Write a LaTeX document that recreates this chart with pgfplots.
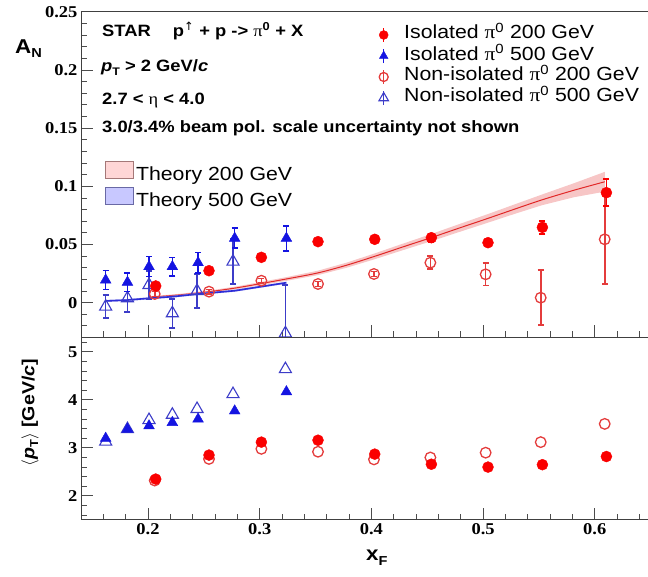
\documentclass[border=0pt]{standalone}
\usepackage{pgfplots}
\pgfplotsset{compat=1.18}
\usepackage{fontspec}
\setmainfont{Liberation Sans}[FakeStretch=1.12]
\newfontfamily\serifb{Liberation Serif}[FakeStretch=1.12]
\newfontfamily\dejavu{DejaVu Sans}

\definecolor{myred}{RGB}{250,0,0}
\definecolor{myredo}{RGB}{228,60,60}
\definecolor{myblue}{RGB}{20,20,225}
\definecolor{mybluo}{RGB}{60,60,200}
\definecolor{bandred}{RGB}{246,188,188}
\definecolor{linered}{RGB}{225,40,40}
\definecolor{bandblue}{RGB}{170,170,240}
\definecolor{lineblue}{RGB}{45,45,215}
\definecolor{legred}{RGB}{255,214,214}
\definecolor{legredd}{RGB}{165,120,120}
\definecolor{legblue}{RGB}{200,200,255}
\definecolor{legblued}{RGB}{105,105,165}

\pgfplotsset{
  root/.style={
    scale only axis, width=580.8pt, xmin=0.14, xmax=0.66,
    axis line style={line width=0.9pt, black!75},
    tick align=inside, xtick pos=lower, ytick pos=left,
    major tick length=12pt, minor tick length=6pt,
    tick style={line width=0.8pt, black!70},
    xtick={0.2,0.3,0.4,0.5,0.6},
    minor xtick={0.16,0.18,0.22,0.24,0.26,0.28,0.32,0.34,0.36,0.38,0.42,0.44,0.46,0.48,0.52,0.54,0.56,0.58,0.62,0.64},
    tick label style={font=\serifb\bfseries\fontsize{16.5}{18}\selectfont},
    /pgf/number format/assume math mode=true,
    scaled ticks=false,
    clip marker paths=true,
  },
  errs/.style={/pgfplots/error bars/y dir=both, /pgfplots/error bars/y explicit,
    /pgfplots/error bars/error bar style={line width=1.6pt},
    /pgfplots/error bars/error mark options={rotate=90, mark size=3pt, line width=1.6pt}},
  fred/.style={only marks, mark=*, mark size=5.5pt, color=myred},
  fblue/.style={only marks, mark=triangle*, mark size=6.2pt, color=myblue},
  ored/.style={only marks, mark=o, mark size=5.3pt, color=myredo, mark options={line width=1.3pt, fill=white}},
  oblue/.style={only marks, mark=triangle, mark size=7pt, color=mybluo, mark options={line width=1.1pt, fill=white}},
}

\begin{document}
\begin{tikzpicture}[x=1pt,y=1pt]
\useasboundingbox (0,0) rectangle (648,577);

% ---------------- top panel ----------------
\begin{axis}[root, at={(81pt,239.5pt)}, anchor=south west, height=325.7pt,
  ymin=-0.03, ymax=0.25,
  ytick={0,0.05,0.1,0.15,0.2,0.25}, yticklabels={0,0.05,0.1,0.15,0.2,0.25},
  minor ytick={-0.02,-0.01,0.01,0.02,0.03,0.04,0.06,0.07,0.08,0.09,0.11,0.12,0.13,0.14,0.16,0.17,0.18,0.19,0.21,0.22,0.23,0.24},
  xticklabels={},
  legend style={at={(0.4692,0.9616)}, anchor=north west, draw=none, fill=none,
    inner sep=0pt, row sep=0pt, font=\fontsize{19}{21}\selectfont,
    nodes={inner xsep=2.5pt, inner ysep=0pt, text height=14.5pt, text depth=6.5pt}},
  legend cell align=left,
  legend image code/.code={\path[draw=none] (-12pt,0pt) -- (36pt,0pt);
    \draw[#1, line width=1.3pt] (18pt,-7pt) -- (18pt,7pt);
    \draw[mark repeat=2,mark phase=2,#1] plot coordinates {(12pt,0pt)(18pt,0pt)(24pt,0pt)};},
]
% theory 200 GeV band + line
\addplot[fill=bandred, draw=none, fill opacity=0.85, forget plot] coordinates {
(0.200,0.0053)(0.228,0.0075)(0.255,0.0104)(0.280,0.0140)(0.302,0.0179)(0.325,0.0221)(0.352,0.0274)(0.378,0.0344)(0.403,0.0423)(0.428,0.0506)(0.454,0.0591)(0.479,0.0676)(0.504,0.0760)(0.529,0.0847)(0.553,0.0930)(0.581,0.1025)(0.609,0.1124)
(0.609,0.0954)(0.581,0.0905)(0.553,0.0838)(0.529,0.0765)(0.504,0.0686)(0.479,0.0608)(0.454,0.0529)(0.428,0.0450)(0.403,0.0373)(0.378,0.0300)(0.352,0.0236)(0.325,0.0189)(0.302,0.0151)(0.280,0.0116)(0.255,0.0084)(0.228,0.0057)(0.200,0.0037)};
\addplot[linered, line width=1pt, smooth, forget plot] coordinates {
(0.200,0.0045)(0.228,0.0066)(0.255,0.0094)(0.280,0.0128)(0.302,0.0165)(0.325,0.0205)(0.352,0.0255)(0.378,0.0322)(0.403,0.0398)(0.428,0.0478)(0.454,0.0560)(0.479,0.0642)(0.504,0.0723)(0.529,0.0806)(0.553,0.0884)(0.581,0.0965)(0.609,0.1039)};
% theory 500 GeV band + line
\addplot[fill=bandblue, draw=none, fill opacity=0.85, forget plot] coordinates {
(0.1621,0.0023)(0.1816,0.0031)(0.2009,0.0046)(0.2218,0.0060)(0.2448,0.0083)(0.2776,0.0111)(0.3239,0.0180)
(0.3239,0.0162)(0.2776,0.0093)(0.2448,0.0065)(0.2218,0.0042)(0.2009,0.0028)(0.1816,0.0013)(0.1621,0.0005)};
\addplot[lineblue, line width=1.6pt, forget plot] coordinates {
(0.1621,0.0014)(0.1816,0.0022)(0.2009,0.0037)(0.2218,0.0051)(0.2448,0.0074)(0.2776,0.0102)(0.3239,0.0171)};

% Non-isolated 500 GeV
\addplot[oblue, forget plot, errs] coordinates {
(0.1621,-0.0035) +- (0,0.0100)
(0.1816,0.0037) +- (0,0.0118)
(0.2009,0.0151) +- (0,0.0120)
(0.2218,-0.0092) +- (0,0.0125)
(0.2439,0.0100) +- (0,0.0146)
(0.2761,0.0352) +- (0,0.0193)
(0.3230,-0.0264) +- (0,0.0415)};
% Non-isolated 200 GeV
\addplot[ored, forget plot, errs] coordinates {
(0.2060,0.0074) +- (0,0.0020)
(0.2546,0.0094) +- (0,0.0020)
(0.3015,0.0188) +- (0,0.0020)
(0.3522,0.0160) +- (0,0.0020)
(0.4023,0.0246) +- (0,0.0020)
(0.4528,0.0343) +- (0,0.0056)
(0.5023,0.0243) +- (0,0.0096)
(0.5516,0.0042) +- (0,0.0236)
(0.6089,0.0544) +- (0,0.0384)};
% Isolated 500 GeV
\addplot[fblue, forget plot, errs] coordinates {
(0.1621,0.0194) +- (0,0.0083)
(0.1816,0.0175) +- (0,0.0079)
(0.2009,0.0309) +- (0,0.0086)
(0.2218,0.0309) +- (0,0.0079)
(0.2448,0.0343) +- (0,0.0086)
(0.2776,0.0553) +- (0,0.0086)
(0.3239,0.0553) +- (0,0.0107)};
% Isolated 200 GeV
\addplot[fred, forget plot, errs] coordinates {
(0.2069,0.0143) +- (0,0.0020)
(0.2546,0.0274) +- (0,0.0020)
(0.3015,0.0389) +- (0,0.0020)
(0.3522,0.0524) +- (0,0.0020)
(0.4030,0.0544) +- (0,0.0020)
(0.4537,0.0558) +- (0,0.0036)
(0.5044,0.0515) +- (0,0.0030)
(0.5531,0.0647) +- (0,0.0057)
(0.6104,0.0945) +- (0,0.0115)};

\addlegendimage{fred, mark size=4.5pt}
\addlegendentry{Isolated {\serifb π}\textsuperscript{0} 200 GeV}
\addlegendimage{fblue, mark size=5pt}
\addlegendentry{Isolated {\serifb π}\textsuperscript{0} 500 GeV}
\addlegendimage{ored, mark size=4.5pt}
\addlegendentry{Non-isolated {\serifb π}\textsuperscript{0} 200 GeV}
\addlegendimage{oblue, mark size=5.5pt}
\addlegendentry{Non-isolated {\serifb π}\textsuperscript{0} 500 GeV}
\end{axis}

% theory legend (overlay)
\begin{axis}[at={(81pt,239.5pt)}, anchor=south west, scale only axis,
  width=580.8pt, height=325.7pt, hide axis,
  xmin=0.14, xmax=0.66, ymin=-0.03, ymax=0.25,
  legend style={at={(0.0405,0.5410)}, anchor=north west, draw=none, fill=none,
    inner sep=0pt, row sep=0pt, font=\fontsize{19}{21}\selectfont,
    nodes={inner xsep=2.5pt, inner ysep=0pt, text height=14.5pt, text depth=6.5pt}},
  legend cell align=left,
  legend image code/.code={\draw[#1] (0pt,-2pt) rectangle (28pt,15pt);},
]
\addlegendimage{fill=legred, draw=legredd, line width=0.8pt}
\addlegendentry{Theory 200 GeV}
\addlegendimage{fill=legblue, draw=legblued, line width=0.8pt}
\addlegendentry{Theory 500 GeV}
\end{axis}

% ---------------- bottom panel ----------------
\begin{axis}[root, at={(81pt,57.1pt)}, anchor=south west, height=182.4pt,
  ymin=1.5, ymax=5.3, ytick={2,3,4,5},
  minor ytick={1.6,1.8,2.2,2.4,2.6,2.8,3.2,3.4,3.6,3.8,4.2,4.4,4.6,4.8,5.2},
  xticklabels={0.2,0.3,0.4,0.5,0.6},
]
\addplot[oblue] coordinates {(0.1621,3.13)(0.1816,3.39)(0.2009,3.58)(0.2218,3.69)(0.2439,3.81)(0.2761,4.12)(0.3230,4.64)};
\addplot[ored] coordinates {(0.2060,2.32)(0.2546,2.77)(0.3015,2.98)(0.3522,2.92)(0.4023,2.76)(0.4528,2.80)(0.5023,2.90)(0.5516,3.12)(0.6089,3.50)};
\addplot[fblue] coordinates {(0.1621,3.20)(0.1816,3.39)(0.2009,3.46)(0.2218,3.53)(0.2448,3.60)(0.2776,3.77)(0.3239,4.17)};
\addplot[fred] coordinates {(0.2069,2.35)(0.2546,2.85)(0.3015,3.12)(0.3522,3.16)(0.4030,2.87)(0.4537,2.66)(0.5044,2.60)(0.5531,2.65)(0.6104,2.82)};
\end{axis}

% ---------------- texts ----------------
\begin{scope}[every node/.style={anchor=base west, inner sep=0pt, font=\bfseries\fontsize{16.4}{18}\selectfont}]
\node at (102,540.6) {STAR\hspace{22pt}p\textsuperscript{\dejavu\mdseries ↑} + p -> {\serifb\mdseries π}\textsuperscript{0} + X};
\node at (101,505.1) {\textit{p}\raisebox{-0.45ex}{\fontsize{11}{11}\selectfont T} > 2 GeV/\textit{c}};
\node at (102,472.4) {2.7 < {\serifb\mdseries η} < 4.0};
\node at (102,444.1) {3.0/3.4\% beam pol. scale uncertainty not shown};
\end{scope}
\node[anchor=base west, inner sep=0pt, font=\bfseries\fontsize{20}{24}\selectfont] at (15,523) {A\raisebox{-0.35ex}{\fontsize{13}{13}\selectfont N}};
\node[anchor=base west, inner sep=0pt, font=\bfseries\fontsize{20}{24}\selectfont] at (366,16) {x\raisebox{-0.4ex}{\fontsize{13}{13}\selectfont F}};
\node[rotate=90, anchor=center, inner sep=0pt, font=\bfseries\fontsize{17.5}{20}\selectfont] at (30,164.3) {$\langle$\textit{p}\raisebox{-0.4ex}{\fontsize{11.5}{11.5}\selectfont T}$\rangle$ [GeV/\textit{c}]};
\end{tikzpicture}
\end{document}
